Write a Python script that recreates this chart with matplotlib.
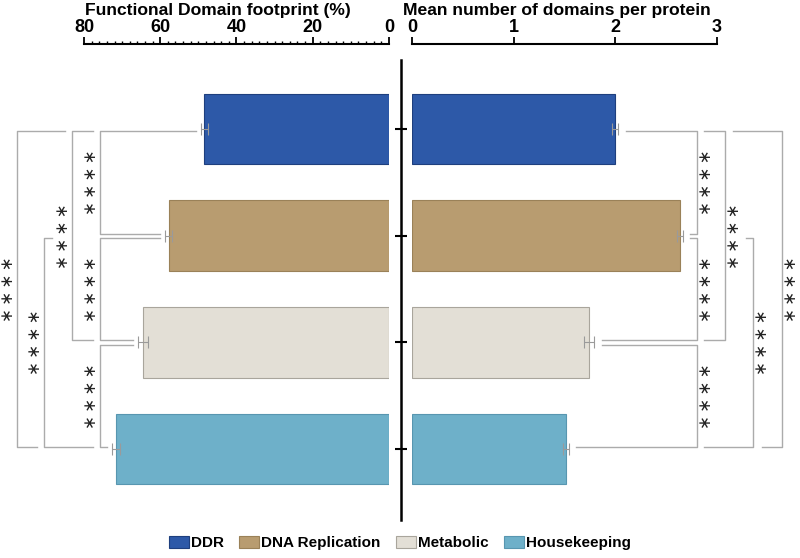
import numpy as np
import matplotlib
matplotlib.use("Agg")
import matplotlib.pyplot as plt
from matplotlib.patches import Patch

plt.rcParams['font.family'] = ['Liberation Sans', 'DejaVu Sans']
plt.rcParams['font.weight'] = 'bold'

# data
categories = ["DDR", "DNA Replication", "Metabolic", "Housekeeping"]
colors = ["#2D59A8", "#B89C70", "#E3DFD6", "#6EB0C9"]
edges = ["#1E3F7E", "#9A8158", "#A9A59C", "#5896B0"]

footprint = [48.4, 57.8, 64.5, 71.6]
footprint_err = [0.85, 1.0, 1.3, 1.0]
domains = [2.0, 2.635, 1.745, 1.515]
domains_err = [0.03, 0.03, 0.05, 0.03]

left_ticks = [80, 60, 40, 20, 0]
right_ticks = [0, 1, 2, 3]

# significance brackets: pairs, level position, leg ends (None -> from the bar)
pairs = [(0, 1), (1, 2), (2, 3), (0, 2), (1, 3), (0, 3)]
labels = ["\u2217\u2009\u2217\u2009\u2217\u2009\u2217"] * 6
left_levels = [75.8, 75.8, 75.8, 83.1, 90.5, 97.6]
left_ends = [(None, None), (None, None), (None, None),
             (77.6, 77.6), (88.4, 77.6), (85.0, 92.3)]
right_levels = [2.803, 2.803, 2.803, 3.079, 3.354, 3.639]
right_ends = [(None, None), (None, None), (None, None),
              (2.872, 2.872), (3.285, 2.872), (3.157, 3.442)]

y = np.arange(len(categories))
W, H = 800, 558
fig = plt.figure(figsize=(W / 100, H / 100), dpi=100)
bottom = 1 - 520 / H
height = (520 - 44) / H
axL = fig.add_axes([84 / W, bottom, 305 / W, height])
axR = fig.add_axes([412 / W, bottom, 305 / W, height])

ylim = (3.665, -0.797)
line_col = "#ABABAB"


def draw_brackets(ax, vals, errs, levels, ends, gap, star_off):
    for (i, j), lev, (ei, ej), lab in zip(pairs, levels, ends, labels):
        if ei is None:
            ei = vals[i] + errs[i] + gap
        if ej is None:
            ej = vals[j] + errs[j] + gap
        yi, yj = y[i] + 0.02, y[j] - 0.02
        ax.plot([ei, lev, lev, ej], [yi, yi, yj, yj], color=line_col,
                lw=1.0, clip_on=False, zorder=2)
        ax.text(lev + star_off, (yi + yj) / 2, lab,
                rotation=90, ha='center', va='center', fontsize=12,
                family='DejaVu Sans', fontweight='normal', color='#222222',
                clip_on=False)


# left panel
axL.barh(y, footprint, height=0.66, color=colors, edgecolor=edges, lw=0.8, zorder=1)
axL.errorbar(footprint, y, xerr=footprint_err, fmt='none', ecolor='#9A9A9A',
             elinewidth=0.8, capsize=4.5, capthick=0.8, zorder=3)
axL.set_xlim(80, 0)
axL.set_ylim(*ylim)
axL.xaxis.tick_top()
axL.set_xticks(left_ticks)
axL.set_xticks(np.arange(0, 81, 2), minor=True)
axL.tick_params(axis='x', which='major', direction='out', length=5, width=1.3,
                labelsize=13, pad=0.5)
axL.tick_params(axis='x', which='minor', direction='out', length=2.5, width=1.0)
axL.set_yticks([])
for s in ['left', 'right', 'bottom']:
    axL.spines[s].set_visible(False)
axL.spines['top'].set_linewidth(1.5)
draw_brackets(axL, footprint, footprint_err, left_levels, left_ends, 1.3, 2.4)

# right panel
axR.barh(y, domains, height=0.66, color=colors, edgecolor=edges, lw=0.8, zorder=1)
axR.errorbar(domains, y, xerr=domains_err, fmt='none', ecolor='#9A9A9A',
             elinewidth=0.8, capsize=4.5, capthick=0.8, zorder=3)
axR.set_xlim(0, 3)
axR.set_ylim(*ylim)
axR.xaxis.tick_top()
axR.set_xticks(right_ticks)
axR.tick_params(axis='x', direction='out', length=5, width=1.3, labelsize=13, pad=0.5)
axR.set_yticks(y)
axR.tick_params(axis='y', direction='inout', length=8, width=1.5, labelleft=False)
for s in ['right', 'bottom']:
    axR.spines[s].set_visible(False)
axR.spines['top'].set_linewidth(1.5)
axR.spines['left'].set_position(('outward', 8))
axR.spines['left'].set_linewidth(1.8)
axR.spines['left'].set_bounds(3.665, -0.647)
draw_brackets(axR, domains, domains_err, right_levels, right_ends, 0.07, 0.09)

fig.text(85 / W, 1 - 11 / H, "Functional Domain footprint (%)", fontsize=12.6,
         fontweight='bold', va='center', ha='left')
fig.text(403 / W, 1 - 11 / H, "Mean number of domains per protein", fontsize=12.6,
         fontweight='bold', va='center', ha='left')

handles = [Patch(facecolor=c, edgecolor=e, lw=0.8) for c, e in zip(colors, edges)]
fig.legend(handles, categories, loc='center', bbox_to_anchor=(0.5, 1 - 543 / H),
           ncol=4, frameon=False, prop={'weight': 'bold', 'size': 11},
           handlelength=1.3, handleheight=0.8, handletextpad=0.15,
           columnspacing=1.0)

fig.savefig("out.png", dpi=100)
